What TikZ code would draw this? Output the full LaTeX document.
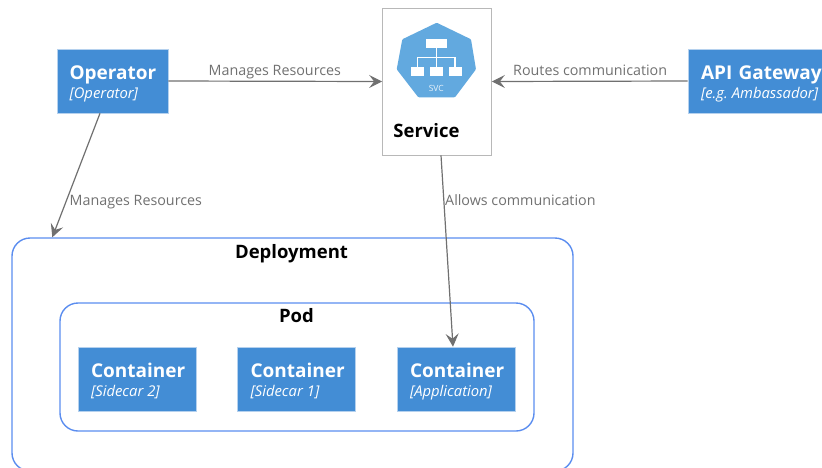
\documentclass[tikz,border=0pt]{standalone}
\usepackage{fontspec}
\setmainfont{Open Sans}
\usetikzlibrary{arrows.meta,calc}
\definecolor{boxblue}{HTML}{438DD5}
\definecolor{boxedge}{HTML}{B5D1EE}
\definecolor{groupblue}{HTML}{5B8DEF}
\definecolor{linkgrey}{HTML}{707070}
\definecolor{iconblue}{HTML}{62A9DF}
\tikzset{
  bluebox/.style={draw=boxedge,line width=0.6pt,fill=boxblue,text=white,align=left,inner sep=0pt,
     minimum height=64pt,font=\fontsize{19}{22}\selectfont\bfseries},
  group/.style={draw=groupblue,line width=1.4pt,rounded corners=#1,fill=none,inner sep=0pt},
  link/.style={draw=linkgrey,line width=1.2pt,-{Stealth[length=13pt,width=13pt,inset=5pt]}},
  linklabel/.style={text=linkgrey,font=\fontsize{14.3}{16}\selectfont,inner sep=0pt,anchor=base west},
  grouplabel/.style={anchor=base,font=\fontsize{18.5}{20}\selectfont\bfseries,inner sep=0pt},
  icoline/.style={draw=white,line width=1.1pt}
}
\newcommand{\boxtext}[2]{\rule{0pt}{19pt}#1\\[-3pt]\mbox{\fontsize{14.8}{16}\selectfont\mdseries\itshape\frenchspacing\spaceskip=4pt\relax #2}}
\begin{document}
\begin{tikzpicture}[x=1pt,y=-1pt]
\useasboundingbox (0,0) rectangle (822,467);
\clip (0,0) rectangle (822,467);
% groups
\node[group=18pt,minimum width=561pt,minimum height=233pt] (dep) at (292.5,354.5) {};
\node[grouplabel] (deplabel) at (291.5,258) {Deployment};
\node[group=18pt,minimum width=474pt,minimum height=128pt] (pod) at (297,367) {};
\node[grouplabel] (podlabel) at (296.5,322) {Pod};
% blue boxes
\node[bluebox,minimum width=111pt,text width=86pt] (op) at (112.5,81) {\boxtext{Operator}{[Operator]}};
\node[bluebox,minimum width=150pt,text width=124pt] (api) at (763,81) {\boxtext{API Gateway}{[e.g. Ambassador]}};
\node[bluebox,minimum width=118pt,text width=92pt] (c2) at (137,379) {\boxtext{Container}{[Sidecar 2]}};
\node[bluebox,minimum width=118pt,text width=92pt] (c1) at (296.5,379) {\boxtext{Container}{[Sidecar 1]}};
\node[bluebox,minimum width=118pt,text width=92pt] (c0) at (456,379) {\boxtext{Container}{[Application]}};
% service
\node[draw=black!28,line width=0.7pt,fill=white,minimum width=109pt,minimum height=147pt,inner sep=0pt] (svc) at (437,81.5) {};
\node[grouplabel] (svclabel) at (426.5,137.5) {Service};
\fill[iconblue,rounded corners=1pt] (436.7,22.7) -- (471,39.3) -- (476,69.3) -- (455,97.3) -- (418.3,97.3) -- (396.7,69.3) -- (402.3,39.3) -- cycle;
\fill[white] (425.7,38.7) rectangle (447.3,48.3);
\fill[white] (411.3,66.7) rectangle (424,76);
\fill[white] (430,66.7) rectangle (442.7,76);
\fill[white] (448.7,66.7) rectangle (461.7,76);
\draw[icoline] (436.5,48) -- (436.5,67);
\draw[icoline] (417.7,67) -- (417.7,57.3) -- (455,57.3) -- (455,67);
\node[text=white!85!iconblue,font=\fontsize{8.5}{9}\selectfont,inner sep=0pt] (svctext) at (436.3,88) {SVC};
% connector ends
\coordinate (opfoot) at ($(op.south)+(-12.5,0)$);
\coordinate (deptop) at ($(dep.north west)+(41,0)$);
\coordinate (svcfoot) at ($(svc.south)+(4,0)$);
\coordinate (c0top) at ($(c0.north)+(-3,0)$);
% connectors
\draw[link] (op.east) -- (svc.west);
\draw[link] (api.west) -- (svc.east);
\draw[link] (opfoot) -- (deptop);
\draw[link] (svcfoot) -- (c0top);
\node[linklabel] (l1) at (208.5,75) {Manages Resources};
\node[linklabel] (l2) at (513,75) {Routes communication};
\node[linklabel] (l3) at (69.5,205.5) {Manages Resources};
\node[linklabel] (l4) at (445,205.5) {Allows communication};
\end{tikzpicture}
\end{document}
